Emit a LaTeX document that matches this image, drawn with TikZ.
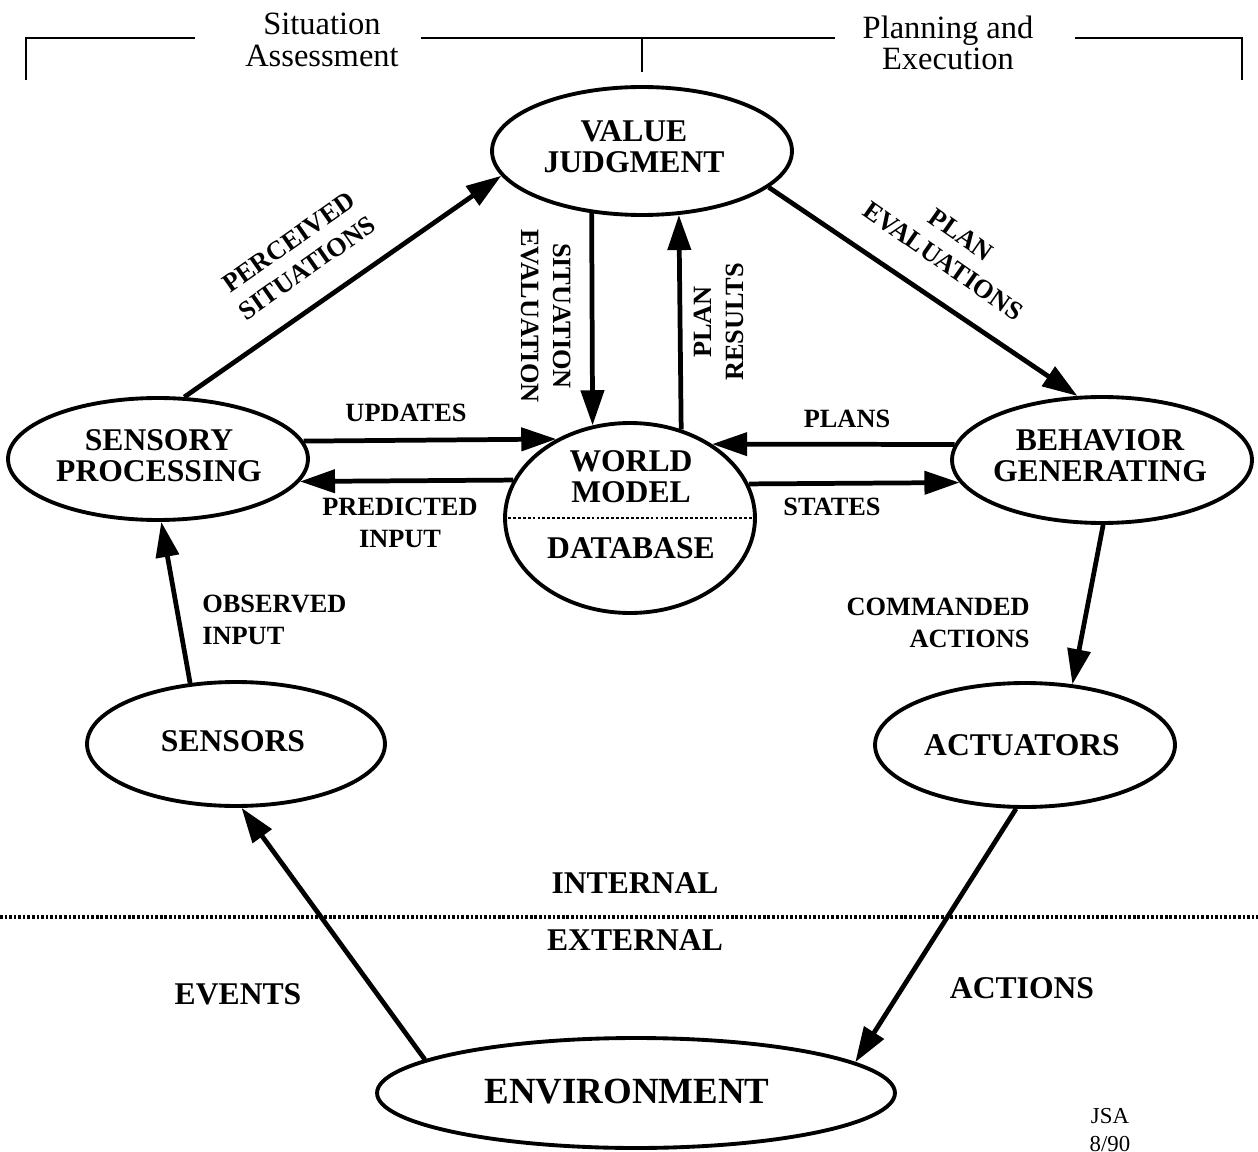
\documentclass[tikz,border=0pt]{standalone}
\usepackage{fontspec}
\setmainfont{Liberation Serif}
\usetikzlibrary{arrows.meta,shapes.geometric}
\begin{document}
\begin{tikzpicture}[x=0.02cm,y=-0.02cm,
  ell/.style={ellipse,draw,line width=2.2pt,inner sep=0pt},
  big/.style={font=\fontsize{18}{17.6}\selectfont\bfseries,align=center,inner sep=0pt},
  lab/.style={font=\fontsize{15}{18}\selectfont\bfseries,align=center,inner sep=0pt},
  arr/.style={line width=2.7pt,-{Triangle[length=20pt,width=13pt]}},
  ttl/.style={font=\fontsize{18.5}{18}\selectfont,align=center,inner sep=0pt},
  brk/.style={line width=1.2pt}]
\useasboundingbox (0,0) rectangle (1258,1152);
\fill[white] (0,0) rectangle (1258,1152);

% top bracket
\draw[brk] (26,80) -- (26,38) -- (195,38);
\draw[brk] (421,38) -- (835,38);
\draw[brk] (642,38) -- (642,72);
\draw[brk] (1075,38) -- (1242,38) -- (1242,80);
\node[ttl] (sa) at (322,40) {Situation\\Assessment};
\node[ttl] (pe) at (948,43) {Planning and\\Execution};

% ellipses
\node[ell,minimum width=6cm,minimum height=2.56cm] (vj) at (642,151) {};
\node[big] (vjt) at (634,147) {VALUE\\JUDGMENT};
\node[ell,minimum width=6cm,minimum height=2.44cm] (sp) at (158,459) {};
\node[big] (spt) at (159,456) {SENSORY\\PROCESSING};
\node[ell,minimum width=5cm,minimum height=3.8cm] (wm) at (630,518) {};
\node[big] (wmt) at (631,477) {WORLD\\MODEL};
\node[big] (wmd) at (631,548) {DATABASE};
\node[ell,minimum width=6cm,minimum height=2.52cm] (bg) at (1102,460) {};
\node[big] (bgt) at (1100,456) {BEHAVIOR\\GENERATING};
\node[ell,minimum width=5.96cm,minimum height=2.48cm] (se) at (236,744) {};
\node[big] (set) at (233,741) {SENSORS};
\node[ell,minimum width=6cm,minimum height=2.48cm] (ac) at (1025,745) {};
\node[big] (act) at (1022,745) {ACTUATORS};
\node[ell,minimum width=10.36cm,minimum height=2.2cm] (en) at (636,1093) {};
\node[big,font=\fontsize{21}{21}\selectfont\bfseries] (ent) at (627,1092) {ENVIRONMENT};

% dotted line in world model
\draw[line width=1.5pt,dash pattern=on 1.6pt off 1.2pt] (wm.west) -- (wm.east);

% internal / external divider
\draw[line width=2.4pt,dash pattern=on 1.5pt off 1.1pt] (0,917) -- (1258,917);

% arrows
\draw[arr] (sp.67.7) -- (vj.190.2);
\draw[arr] (vj.344) -- (bg.111.6);
\draw[arr] (vj.231) -- (wm.112.2);
\draw[arr] (wm.60.7) -- (vj.300.8);
\draw[arr] (sp.7.2) -- (wm.133.6);
\draw[arr] (wm.162.2) -- (sp.351.1);
\draw[arr] (bg.174.1) -- (wm.42.4);
\draw[arr] (wm.16.2) -- (bg.189.8);
\draw[arr] (bg.271.8) -- (ac.52.7);
\draw[arr] (se.127.9) -- (sp.273);
\draw[arr] (en.171.9) -- (se.275.5);
\draw[arr] (ac.262.6) -- (en.8.1);

% labels
\node[lab,rotate=35] (lps) at (298,255) {PERCEIVED\\SITUATIONS};
\node[lab,rotate=-35] (lpe) at (952,248) {PLAN\\EVALUATIONS};
\node[lab,rotate=-90] (lse) at (546,316) {SITUATION\\EVALUATION};
\node[lab,rotate=90] (lpr) at (719,322) {PLAN\\RESULTS};
\node[lab] (lup) at (406,413) {UPDATES};
\node[lab] (lpi) at (400,523) {PREDICTED\\INPUT};
\node[lab] (lpl) at (847,419) {PLANS};
\node[lab] (lst) at (832,507) {STATES};
\node[lab,align=left,anchor=west] (loi) at (202,620) {OBSERVED\\INPUT};
\node[lab,align=right,anchor=east] (lca) at (1030,623) {COMMANDED\\ACTIONS};
\node[big] (lin) at (635,883) {INTERNAL};
\node[big] (lex) at (635,940) {EXTERNAL};
\node[big] (lev) at (238,994) {EVENTS};
\node[big] (lac) at (1022,988) {ACTIONS};
\node[font=\fontsize{13}{16}\selectfont,align=center,inner sep=0pt] (jsa) at (1110,1130) {JSA\\8/90};
\end{tikzpicture}
\end{document}
